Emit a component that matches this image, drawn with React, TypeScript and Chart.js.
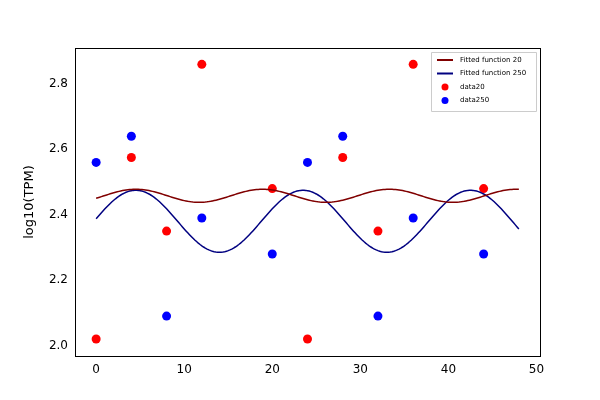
import React, { useEffect, useRef } from "react";
import { Chart, registerables } from "chart.js";
Chart.register(...registerables);

const times = [0, 4, 8, 12, 20, 24, 28, 32, 36, 44];
const data20 = [2.02, 2.575, 2.35, 2.86, 2.48, 2.02, 2.575, 2.35, 2.86, 2.48];
const data250 = [2.56, 2.64, 2.09, 2.39, 2.28, 2.56, 2.64, 2.09, 2.39, 2.28];
// fitted cosine parameters: [mean, amplitude, period, peak phase]
const fit20 = [2.458, 0.02, 14.4, 4.5];
const fit250 = [2.38, 0.095, 19, 4.5];
const xTicks = [0, 10, 20, 30, 40, 50];
const yTicks = [2.0, 2.2, 2.4, 2.6, 2.8];
const fitX: number[] = Array.from({ length: 241 }, (_, i) => i * 0.2);
const curve = (p: number[]) =>
  fitX.map((x) => ({ x, y: p[0] + p[1] * Math.cos((2 * Math.PI * (x - p[3])) / p[2]) }));

const legendItems = [
  { label: "Fitted function 20", color: "#800000", line: true },
  { label: "Fitted function 250", color: "#000080", line: true },
  { label: "data20", color: "#ff0000", line: false },
  { label: "data250", color: "#0000ff", line: false },
];

export default function App() {
  const ref = useRef<HTMLCanvasElement>(null);
  useEffect(() => {
    const legendPlugin = {
      id: "inLegend",
      afterDraw(c: any) {
        const ctx = c.ctx;
        const a = c.chartArea;
        ctx.save();
        ctx.strokeStyle = "#000";
        ctx.lineWidth = 1;
        ctx.strokeRect(Math.round(a.left) + 0.5, Math.round(a.top) + 0.5, Math.round(a.right - a.left), Math.round(a.bottom - a.top));
        const w = 105, h = 59;
        const x0 = a.right - w - 4, y0 = a.top + 4;
        ctx.fillStyle = "rgba(255,255,255,0.8)";
        ctx.strokeStyle = "#cccccc";
        ctx.beginPath();
        ctx.rect(x0 + 0.5, y0 + 0.5, w, h);
        ctx.fill();
        ctx.stroke();
        ctx.font = "7px 'DejaVu Sans'";
        ctx.textBaseline = "middle";
        legendItems.forEach((it, i) => {
          const y = y0 + 8 + i * 13.5;
          if (it.line) {
            ctx.strokeStyle = it.color;
            ctx.lineWidth = 2;
            ctx.beginPath();
            ctx.moveTo(x0 + 6, y);
            ctx.lineTo(x0 + 22, y);
            ctx.stroke();
          } else {
            ctx.fillStyle = it.color;
            ctx.beginPath();
            ctx.arc(x0 + 14, y, 3.5, 0, Math.PI * 2);
            ctx.fill();
          }
          ctx.fillStyle = "#000";
          ctx.fillText(it.label, x0 + 29, y);
        });
        ctx.restore();
      },
    };
    const chart = new Chart(ref.current!, {
      type: "scatter",
      data: {
        datasets: [
          { type: "line", label: "Fitted function 20", data: curve(fit20), borderColor: "#800000", borderWidth: 1.5, pointRadius: 0, fill: false },
          { type: "line", label: "Fitted function 250", data: curve(fit250), borderColor: "#000080", borderWidth: 1.5, pointRadius: 0, fill: false },
          { label: "data20", data: times.map((x, i) => ({ x, y: data20[i] })), backgroundColor: "#ff0000", borderWidth: 0, pointRadius: 4.5 },
          { label: "data250", data: times.map((x, i) => ({ x, y: data250[i] })), backgroundColor: "#0000ff", borderWidth: 0, pointRadius: 4.5 },
        ],
      },
      options: {
        animation: false,
        responsive: false,
        layout: { padding: { top: 48, right: 60, bottom: 0, left: 20 } },
        plugins: { legend: { display: false }, tooltip: { enabled: false } },
        scales: {
          x: {
            type: "linear", min: -2.4, max: 50.4,
            afterBuildTicks: (s: any) => { s.ticks = xTicks.map((v) => ({ value: v })); },
            afterFit: (s: any) => { s.height = 44; },
            ticks: { color: "#000", font: { size: 12, family: "DejaVu Sans" }, callback: (v: any) => String(v) },
            grid: { display: false, drawTicks: true, tickLength: 4, tickColor: "#000" },
            border: { color: "#000" },
          },
          y: {
            min: 1.968, max: 2.91,
            afterBuildTicks: (s: any) => { s.ticks = yTicks.map((v) => ({ value: v })); },
            afterFit: (s: any) => { s.width = 55; },
            title: { display: true, text: "log10(TPM)", color: "#000", padding: 2, font: { size: 13, family: "DejaVu Sans" } },
            ticks: { color: "#000", font: { size: 12, family: "DejaVu Sans" }, callback: (v: any) => Number(v).toFixed(1) },
            grid: { display: false, tickLength: 4, tickColor: "#000" },
            border: { color: "#000" },
          },
        },
      },
      plugins: [legendPlugin],
    });
    return () => chart.destroy();
  }, []);
  return (
    <div style={{ position: "fixed", left: 0, top: 0, background: "#fff" }}>
      <canvas ref={ref} width={600} height={400} />
    </div>
  );
}
